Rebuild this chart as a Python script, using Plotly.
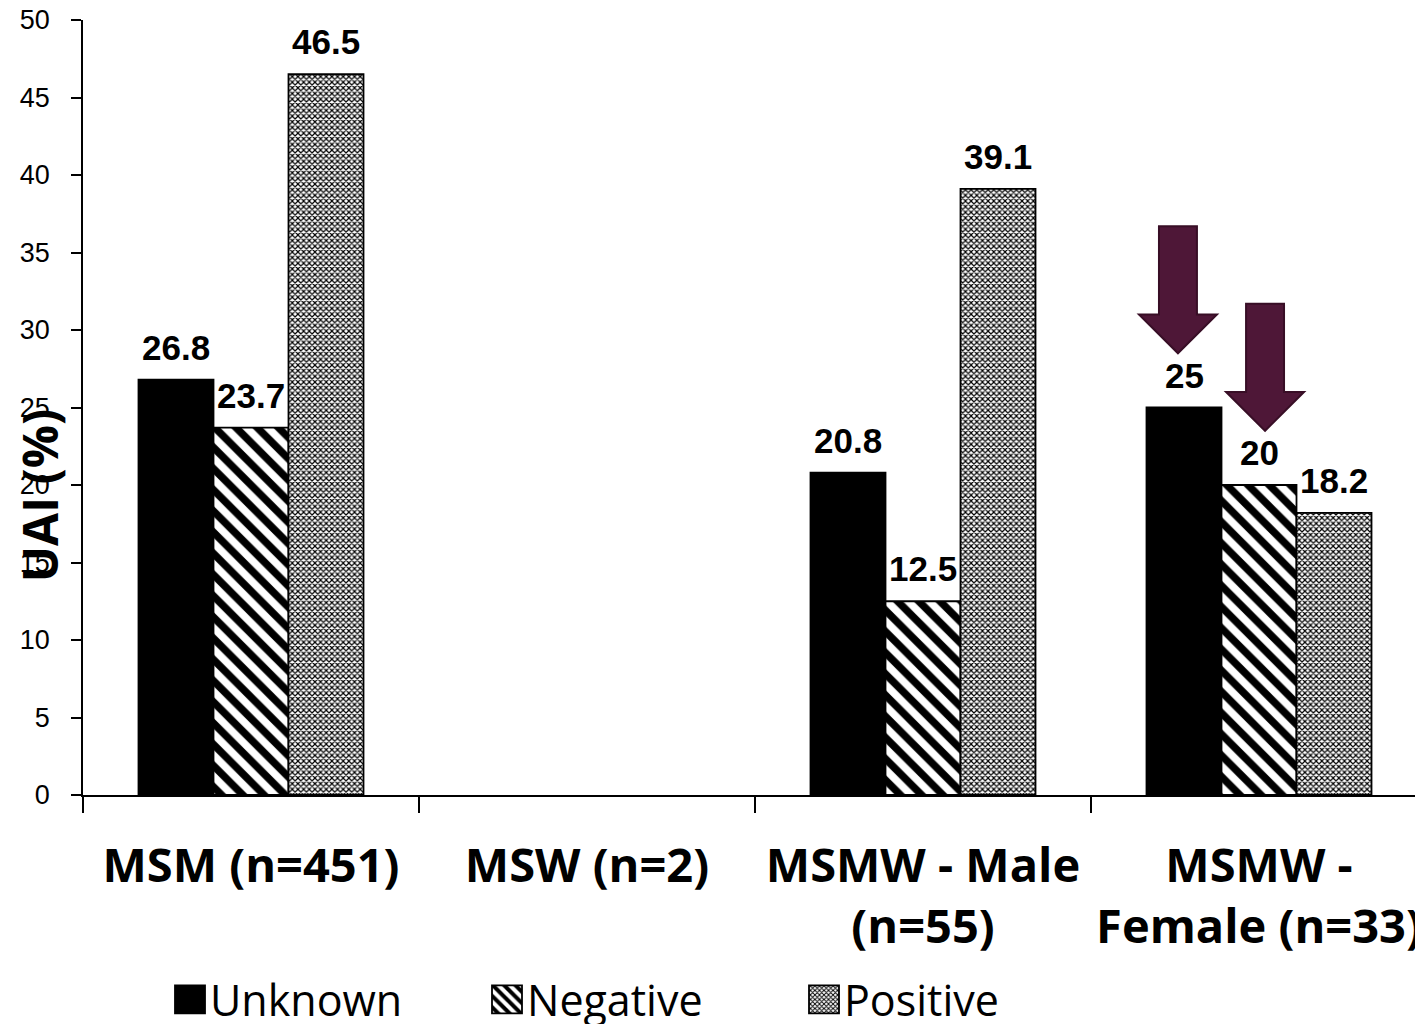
import plotly.graph_objects as go

# ---------------- data ----------------
categories = ["MSM (n=451)", "MSW (n=2)", "MSMW - Male<br>(n=55)", "MSMW -<br>Female (n=33)"]
series_names = ["Unknown", "Negative", "Positive"]
unknown = [26.8, None, 20.8, 25]
negative = [23.7, None, 12.5, 20]
positive = [46.5, None, 39.1, 18.2]
y_ticks = [0, 5, 10, 15, 20, 25, 30, 35, 40, 45, 50]
# bars highlighted with arrows: (series index, category index)
highlighted = [(0, 3), (1, 3)]

# ---------------- layout constants ----------------
W = 1415
H = 1034                 # the captured page is slightly taller than 1024
VS = H / 1024.0
ML, MR = 83, 0
MT = round(20 * VS)
MB = round(H - 793 * VS)
plot_w = W - ML - MR
plot_h = H - MT - MB
cat_px = 336.0
x_range = [-0.5, -0.5 + plot_w / cat_px]
bar_w = 75.0 / cat_px
bargap = 1 - 3 * bar_w

values = [unknown, negative, positive]
patterns = [
    dict(shape=""),
    dict(shape="\\", fgcolor="black", bgcolor="white", size=15, solidity=0.5, fillmode="replace"),
    dict(shape="x", fgcolor="black", bgcolor="white", size=4, solidity=0.5, fillmode="replace"),
]
fills = ["black", "white", "white"]

fig = go.Figure()
for j, (name, vals) in enumerate(zip(series_names, values)):
    fig.add_trace(go.Bar(
        name=name, x=categories, y=vals,
        marker=dict(color=fills[j], pattern=patterns[j], line=dict(color="black", width=1.8)),
    ))

# data labels
annotations = []
for j, vals in enumerate(values):
    for i, v in enumerate(vals):
        if v is None:
            continue
        annotations.append(dict(
            x=i + (j - 1) * bar_w, y=v, xref="x", yref="y",
            text=f"{v:g}", showarrow=False, yanchor="bottom", yshift=11,
            font=dict(family="Liberation Sans", size=35, color="black", weight="bold"),
        ))

# y-axis title (overlapping the tick labels as in the original)
annotations.append(dict(
    x=(39 - ML) / plot_w, y=(793 - 494) / (793 - 20), xref="paper", yref="paper",
    text="UAI (%)", textangle=-90, showarrow=False, xanchor="center", yanchor="middle",
    font=dict(family="Open Sans", size=48, color="black", weight="bold"),
))

# arrows above highlighted bars
shapes = []
arrow_dx = [-0.018, 0.018]
for k, (j, i) in enumerate(highlighted):
    xc = i + (j - 1) * bar_w + arrow_dx[k]
    tip = values[j][i] + 3.5
    top = tip + 8.2
    hb = tip + 2.5
    sw, hw = 0.0565, 0.116
    path = (f"M {xc - sw},{top} L {xc + sw},{top} L {xc + sw},{hb} L {xc + hw},{hb} "
            f"L {xc},{tip} L {xc - hw},{hb} L {xc - sw},{hb} Z")
    shapes.append(dict(type="path", path=path, xref="x", yref="y",
                       fillcolor="#4E1737", line=dict(color="#380E26", width=2)))

fig.update_layout(
    template="none",
    width=W, height=H,
    margin=dict(l=ML, r=MR, t=MT, b=MB, pad=0),
    paper_bgcolor="white", plot_bgcolor="white",
    barmode="group", bargap=bargap, bargroupgap=0,
    annotations=annotations, shapes=shapes,
    showlegend=True,
    legend=dict(
        orientation="h", x=(170 - ML) / plot_w, y=-(997 - 793) / (793 - 20),
        xanchor="left", yanchor="middle", entrywidth=272,
        font=dict(family="Open Sans", size=43, color="black"),
        bgcolor="rgba(0,0,0,0)",
    ),
    xaxis=dict(
        type="category", range=x_range, automargin=False,
        showline=True, linecolor="black", linewidth=1.5,
        ticks="outside", tickson="boundaries", ticklen=16, tickcolor="black", tickwidth=1.5,
        showgrid=False, zeroline=False, ticklabelstandoff=29,
        tickfont=dict(family="Open Sans", size=47, color="black", weight="bold"),
    ),
    yaxis=dict(
        range=[0, 50], tickvals=y_ticks, automargin=False,
        showline=True, linecolor="black", linewidth=1.5,
        ticks="outside", ticklen=10, tickcolor="black", tickwidth=1.5,
        showgrid=False, zeroline=False, ticklabelstandoff=16,
        tickfont=dict(family="Liberation Sans", size=27, color="black"),
    ),
)

# pin the figure to the window's top-left corner with no page margin or scrolling,
# and draw larger legend swatches as in the original
post = """
document.documentElement.style.overflow = 'hidden';
document.body.style.margin = '0';
document.body.style.overflow = 'hidden';
var gd = document.getElementById('{plot_id}');
gd.style.position = 'absolute';
gd.style.left = '0px';
gd.style.top = '0px';
function bigSwatches() {
  gd.querySelectorAll('.legendpoints path').forEach(function (p) {
    p.setAttribute('d', 'M15,14H-15V-14H15Z');
  });
}
bigSwatches();
gd.on('plotly_afterplot', bigSwatches);
"""

fig.write_html("out.html", post_script=post, config={"displayModeBar": False})
